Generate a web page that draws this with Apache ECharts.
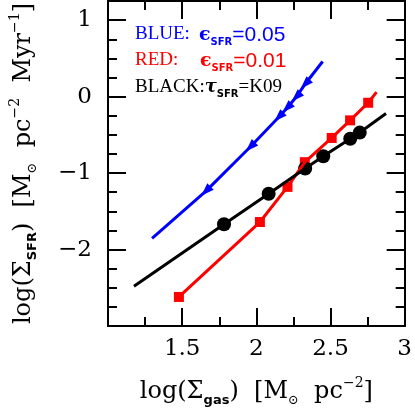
<!DOCTYPE html>
<html>
<head>
<meta charset="utf-8">
<script src="https://cdn.jsdelivr.net/npm/echarts/dist/echarts.min.js"></script>
<style>
  html, body { margin: 0; padding: 0; background: #fff; }
  #chart { width: 415px; height: 413px; }
</style>
</head>
<body>
<div id="chart"></div>
<script>
// blue: eps_SFR = 0.05
const blueLineX = [1.297, 1.66, 1.96, 2.152, 2.207, 2.269, 2.329, 2.447];
const blueLineY = [-1.855, -1.235, -0.656, -0.265, -0.148, -0.004, 0.165, 0.46];
const blueMarkX = [1.66, 1.96, 2.152, 2.207, 2.269, 2.329];
const blueMarkY = [-1.235, -0.656, -0.265, -0.148, -0.004, 0.165];
// red: eps_SFR = 0.01
const redLineX = [1.478, 2.024, 2.21, 2.327, 2.508, 2.632, 2.754, 2.81];
const redLineY = [-2.62, -1.64, -1.18, -0.857, -0.54, -0.31, -0.08, 0.06];
const redMarkX = [1.478, 2.024, 2.21, 2.327, 2.508, 2.632, 2.754];
const redMarkY = [-2.62, -1.64, -1.18, -0.857, -0.54, -0.31, -0.08];
// black: tau_SFR = K09
const blackLineX = [1.175, 1.782, 2.083, 2.329, 2.451, 2.633, 2.697, 2.874];
const blackLineY = [-2.48, -1.67, -1.27, -0.94, -0.78, -0.55, -0.47, -0.22];
const blackMarkX = [1.782, 2.083, 2.329, 2.451, 2.633, 2.697];
const blackMarkY = [-1.67, -1.27, -0.94, -0.78, -0.55, -0.47];

function pairs(xs, ys) { return xs.map((x, i) => [x, ys[i]]); }

const serif = 'DejaVu Serif';
const rich = {
  t: { fontFamily: serif, fontSize: 24, color: '#000', lineHeight: 31, verticalAlign: 'middle' },
  sub: { fontFamily: 'DejaVu Sans', fontWeight: 'bold', fontSize: 13, color: '#000', lineHeight: 13, verticalAlign: 'bottom' },
  sun: { fontFamily: serif, fontSize: 13, color: '#000', lineHeight: 13, verticalAlign: 'bottom' },
  sup: { fontFamily: serif, fontSize: 14, color: '#000', lineHeight: 14, verticalAlign: 'top' }
};

const tickLabel = { fontFamily: serif, fontSize: 23, color: '#000' };
const black2 = { color: '#000', width: 2 };

function xAx(pos, interval, len, opts) {
  return Object.assign({
    type: 'value', min: 1, max: 3, interval: interval, position: pos,
    axisLine: { show: true, onZero: false, lineStyle: black2 },
    axisTick: { show: true, inside: true, length: len, lineStyle: black2 },
    axisLabel: { show: false },
    splitLine: { show: false }
  }, opts || {});
}
function yAx(pos, interval, len, opts) {
  return Object.assign({
    type: 'value', min: -3, max: 1.25, interval: interval, position: pos,
    axisLine: { show: true, onZero: false, lineStyle: black2 },
    axisTick: { show: true, inside: true, length: len, lineStyle: black2 },
    axisLabel: { show: false },
    splitLine: { show: false }
  }, opts || {});
}

// graphic text uses fill, not color
function legendRich(c) {
  return {
    e: { fontFamily: serif, fontWeight: 'bold', fontSize: 19, fill: c, lineHeight: 24, verticalAlign: 'middle' },
    t: { fontFamily: serif, fontStyle: 'italic', fontWeight: 'bold', fontSize: 18, fill: c, lineHeight: 24, verticalAlign: 'middle' },
    s: { fontFamily: 'DejaVu Sans', fontWeight: 'bold', fontSize: 10, fill: c, lineHeight: 10, verticalAlign: 'bottom' },
    n: { fontFamily: 'Liberation Sans', fontSize: 21, fill: c, lineHeight: 24, verticalAlign: 'middle' },
    b: { fontFamily: 'Liberation Serif', fontSize: 19, fill: c, lineHeight: 24, verticalAlign: 'middle' }
  };
}

const chart = echarts.init(document.getElementById('chart'));
const option = {
  animation: false,
  backgroundColor: '#fff',
  grid: { left: 97, right: 7, top: 1, bottom: 87 },
  xAxis: [
    xAx('bottom', 0.5, 18, {
      axisLabel: { show: true, showMinLabel: false, margin: 12, ...tickLabel },
      name: '{t|log(Σ}{sub|gas}{t|)  [M}{sun|⊙}{t|  pc}{sup|−2}{t|]}',
      nameLocation: 'middle', nameGap: 50,
      nameTextStyle: { rich: rich }
    }),
    xAx('bottom', 0.25, 9),
    xAx('top', 0.5, 18),
    xAx('top', 0.25, 9)
  ],
  yAxis: [
    yAx('left', 1, 18, {
      axisLabel: {
        show: true, margin: 16, ...tickLabel,
        formatter: v => (v === -3 || v !== Math.round(v)) ? '' : (v < 0 ? '−' + Math.abs(v) : String(v))
      },
      name: '{t|log(Σ}{sub|SFR}{t|)  [M}{sun|⊙}{t|  pc}{sup|−2}{t|  Myr}{sup|−1}{t|]}',
      nameLocation: 'middle', nameGap: 69,
      nameTextStyle: { rich: rich }
    }),
    yAx('left', 0.25, 9),
    yAx('right', 1, 18),
    yAx('right', 0.25, 9)
  ],
  graphic: [
    { type: 'text', left: 135, top: 25, style: { text: '{b|BLUE:}', rich: legendRich('#0000ff') } },
    { type: 'text', left: 199, top: 25, style: { text: '{e|ϵ}{s|SFR}{n|=0.05}', rich: legendRich('#0000ff') } },
    { type: 'text', left: 135, top: 51, style: { text: '{b|RED:}', rich: legendRich('#ff0000') } },
    { type: 'text', left: 200, top: 51, style: { text: '{e|ϵ}{s|SFR}{n|=0.01}', rich: legendRich('#ff0000') } },
    { type: 'text', left: 135, top: 78, style: { text: '{b|BLACK:}{t|τ}{s|SFR}{b|=K09}', rich: legendRich('#000') } }
  ],
  series: [
    { type: 'line', data: pairs(blueLineX, blueLineY), showSymbol: false, symbol: 'none',
      lineStyle: { color: '#0000ff', width: 3 } },
    { type: 'scatter', data: pairs(blueMarkX, blueMarkY), symbol: 'triangle', symbolSize: [9, 13], symbolRotate: 135,
      itemStyle: { color: '#0000ff', opacity: 1 } },
    { type: 'line', data: pairs(redLineX, redLineY), showSymbol: false, symbol: 'none',
      lineStyle: { color: '#ff0000', width: 3 } },
    { type: 'scatter', data: pairs(redMarkX, redMarkY), symbol: 'rect', symbolSize: 10,
      itemStyle: { color: '#ff0000', opacity: 1 } },
    { type: 'line', data: pairs(blackLineX, blackLineY), showSymbol: false, symbol: 'none',
      lineStyle: { color: '#000', width: 3 } },
    { type: 'scatter', data: pairs(blackMarkX, blackMarkY), symbol: 'circle', symbolSize: 14,
      itemStyle: { color: '#000', opacity: 1 } }
  ]
};
chart.setOption(option);
</script>
</body>
</html>
